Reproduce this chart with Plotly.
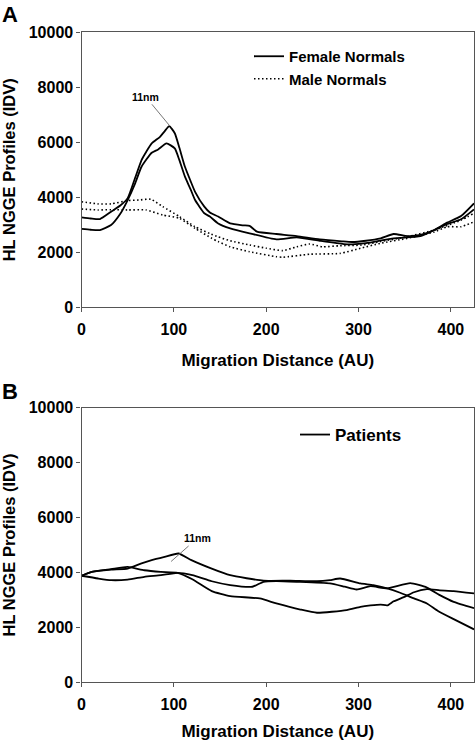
import plotly.graph_objects as go

# ---------- Panel A data ----------
fem1_x = [0, 10, 20, 32, 42, 50, 58, 65, 70, 76, 85, 90, 95, 101, 106, 112, 118, 123, 133, 139, 148,
          161, 175, 182, 190, 211, 233, 258, 282, 293, 308, 324, 338, 353, 367, 382, 396, 411, 425]
fem1_y = [3270, 3230, 3210, 3476, 3700, 3970, 4700, 5356, 5650, 5960, 6200, 6400, 6590, 6330, 5800, 5110, 4600, 4200, 3660, 3450, 3300,
          3050, 2980, 2960, 2750, 2665, 2590, 2470, 2400, 2375, 2420, 2510, 2665, 2590, 2630, 2810, 3080, 3320, 3780]

fem2_x = [0, 10, 20, 32, 42, 50, 58, 65, 76, 83, 92, 101, 106, 112, 118, 123, 133, 139, 148,
          161, 182, 211, 233, 258, 284, 293, 308, 338, 367, 382, 396, 411, 425]
fem2_y = [2850, 2820, 2810, 2990, 3400, 3900, 4500, 5110, 5620, 5740, 5960, 5780, 5350, 4750, 4300, 3900, 3420, 3300, 3050,
          2870, 2690, 2470, 2545, 2420, 2300, 2290, 2330, 2510, 2590, 2810, 3030, 3200, 3560]

male1_x = [0, 18, 32, 50, 62, 75, 88, 106, 123, 139, 148, 161, 182, 200, 218, 233, 247, 261, 280, 302, 324, 353, 382, 411, 425]
male1_y = [3840, 3760, 3760, 3880, 3900, 3930, 3660, 3300, 2930, 2680, 2560, 2420, 2265, 2150, 2060, 2200, 2300, 2200, 2240, 2260, 2390, 2570, 2810, 3170, 3420]

male2_x = [0, 18, 32, 50, 70, 88, 106, 123, 141, 148, 161, 182, 211, 218, 247, 280, 302, 324, 353, 382, 396, 411, 425]
male2_y = [3575, 3540, 3550, 3540, 3540, 3356, 3236, 2870, 2510, 2390, 2200, 2020, 1840, 1820, 1930, 1960, 2145, 2330, 2510, 2740, 2930, 2930, 3110]

# ---------- Panel B data ----------
pat1_x = [0, 11, 32, 50, 65, 76, 90, 105, 119, 141, 161, 197, 226, 255, 269, 280, 302, 316, 331, 345, 360, 374, 386, 403, 425]
pat1_y = [3880, 4020, 4100, 4140, 4330, 4450, 4570, 4690, 4450, 4140, 3900, 3700, 3700, 3680, 3720, 3780, 3600, 3540, 3420, 3260, 3054, 2870, 2600, 2300, 1927]

pat2_x = [0, 18, 32, 50, 68, 86, 104, 120, 141, 161, 185, 197, 211, 233, 269, 285, 298, 313, 331, 356, 374, 388, 403, 425]
pat2_y = [3880, 3780, 3720, 3740, 3840, 3900, 3985, 3900, 3680, 3540, 3480, 3660, 3685, 3660, 3600, 3480, 3380, 3500, 3420, 3610, 3450, 3175, 2930, 2700]

pat3_x = [0, 11, 32, 50, 68, 86, 104, 120, 141, 161, 193, 211, 237, 255, 287, 302, 313, 324, 331, 338, 349, 360, 374, 388, 403, 425]
pat3_y = [3880, 4020, 4120, 4200, 4080, 4020, 3985, 3750, 3320, 3138, 3054, 2873, 2650, 2533, 2630, 2750, 2800, 2830, 2800, 2950, 3100, 3280, 3390, 3350, 3320, 3236]

x_ticks = [0, 100, 200, 300, 400]
x_tick_labels = ["0", "100", "200", "300", "400"]
y_ticks = [0, 2000, 4000, 6000, 8000, 10000]
y_tick_labels = ["0", "2000", "4000", "6000", "8000", "10000"]

FONT = "Liberation Sans, Arial, sans-serif"
W, H = 475, 741

fig = go.Figure()
solid = dict(color="black", width=1.8, shape="spline", smoothing=0.5)
dotted = dict(color="black", width=1.6, dash="1.5px,2.5px", shape="spline", smoothing=0.5)

fig.add_trace(go.Scatter(x=fem1_x, y=fem1_y, mode="lines", line=solid, name="Female Normals",
                         legendgroup="f", showlegend=True, xaxis="x", yaxis="y", legend="legend"))
fig.add_trace(go.Scatter(x=fem2_x, y=fem2_y, mode="lines", line=solid, name="Female Normals",
                         legendgroup="f", showlegend=False, xaxis="x", yaxis="y"))
fig.add_trace(go.Scatter(x=male1_x, y=male1_y, mode="lines", line=dotted, name="Male Normals",
                         legendgroup="m", showlegend=True, xaxis="x", yaxis="y", legend="legend"))
fig.add_trace(go.Scatter(x=male2_x, y=male2_y, mode="lines", line=dotted, name="Male Normals",
                         legendgroup="m", showlegend=False, xaxis="x", yaxis="y"))

fig.add_trace(go.Scatter(x=pat1_x, y=pat1_y, mode="lines", line=solid, name="Patients",
                         legendgroup="p", showlegend=True, xaxis="x2", yaxis="y2", legend="legend2"))
fig.add_trace(go.Scatter(x=pat2_x, y=pat2_y, mode="lines", line=solid, name="Patients",
                         legendgroup="p", showlegend=False, xaxis="x2", yaxis="y2"))
fig.add_trace(go.Scatter(x=pat3_x, y=pat3_y, mode="lines", line=solid, name="Patients",
                         legendgroup="p", showlegend=False, xaxis="x2", yaxis="y2"))

xdom = [81.5 / W, 474 / W]
ydomA = [1 - 307.3 / H, 1 - 32.3 / H]
ydomB = [1 - 682.3 / H, 1 - 407.7 / H]

axis_common = dict(showline=True, linecolor="#555", linewidth=1.2, mirror=True, ticks="outside",
                   ticklen=4, tickwidth=1, tickcolor="#555", showgrid=False, zeroline=False,
                   automargin=False,
                   tickfont=dict(family=FONT, size=16, color="black", weight="bold"))

xt = dict(text="Migration Distance (AU)", font=dict(family=FONT, size=17, color="black", weight="bold"), standoff=17)
yt = dict(text="HL NGGE Profiles (IDV)", font=dict(family=FONT, size=16.5, color="black", weight="bold"), standoff=10)

fig.update_layout(
    width=W, height=H, margin=dict(l=0, r=0, t=0, b=0),
    paper_bgcolor="white", plot_bgcolor="white",
    xaxis=dict(domain=xdom, range=[0, 425], tickvals=x_ticks, ticktext=x_tick_labels, anchor="y",
               title=xt, ticklabelstandoff=3, **axis_common),
    yaxis=dict(domain=ydomA, range=[0, 10000], tickvals=y_ticks, ticktext=y_tick_labels, anchor="x",
               title=yt, **axis_common),
    xaxis2=dict(domain=xdom, range=[0, 425], tickvals=x_ticks, ticktext=x_tick_labels, anchor="y2",
                title=xt, ticklabelstandoff=3, **axis_common),
    yaxis2=dict(domain=ydomB, range=[0, 10000], tickvals=y_ticks, ticktext=y_tick_labels, anchor="x2",
                title=yt, **axis_common),
    legend=dict(x=249 / W, y=1 - 40 / H, xanchor="left", yanchor="top", bgcolor="rgba(0,0,0,0)",
                font=dict(family=FONT, size=15, color="black", weight="bold"), tracegroupgap=0,
                itemwidth=30),
    legend2=dict(x=295 / W, y=1 - 417 / H, xanchor="left", yanchor="top", bgcolor="rgba(0,0,0,0)",
                 font=dict(family=FONT, size=17, color="black", weight="bold"), itemwidth=30),
    showlegend=True,
)

fig.add_annotation(x=95.5, y=6600, xref="x", yref="y", text="11nm", showarrow=True, arrowhead=0,
                   arrowwidth=1, arrowcolor="#777", ax=-24, ay=-29,
                   font=dict(family=FONT, size=10.5, color="black", weight="bold"))
fig.add_annotation(x=97, y=4400, xref="x2", yref="y2", text="11nm", showarrow=True, arrowhead=0,
                   arrowwidth=1, arrowcolor="#777", ax=26, ay=-23,
                   font=dict(family=FONT, size=10.5, color="black", weight="bold"))

fig.add_annotation(x=0, y=1 - 0 / H, xref="paper", yref="paper", text="A", showarrow=False,
                   xanchor="left", yanchor="top", font=dict(family=FONT, size=22, color="black", weight="bold"))
fig.add_annotation(x=0, y=1 - 377 / H, xref="paper", yref="paper", text="B", showarrow=False,
                   xanchor="left", yanchor="top", font=dict(family=FONT, size=22, color="black", weight="bold"))

fig.write_html("out.html", config={"displayModeBar": False},
               post_script="document.body.style.margin='0';")
